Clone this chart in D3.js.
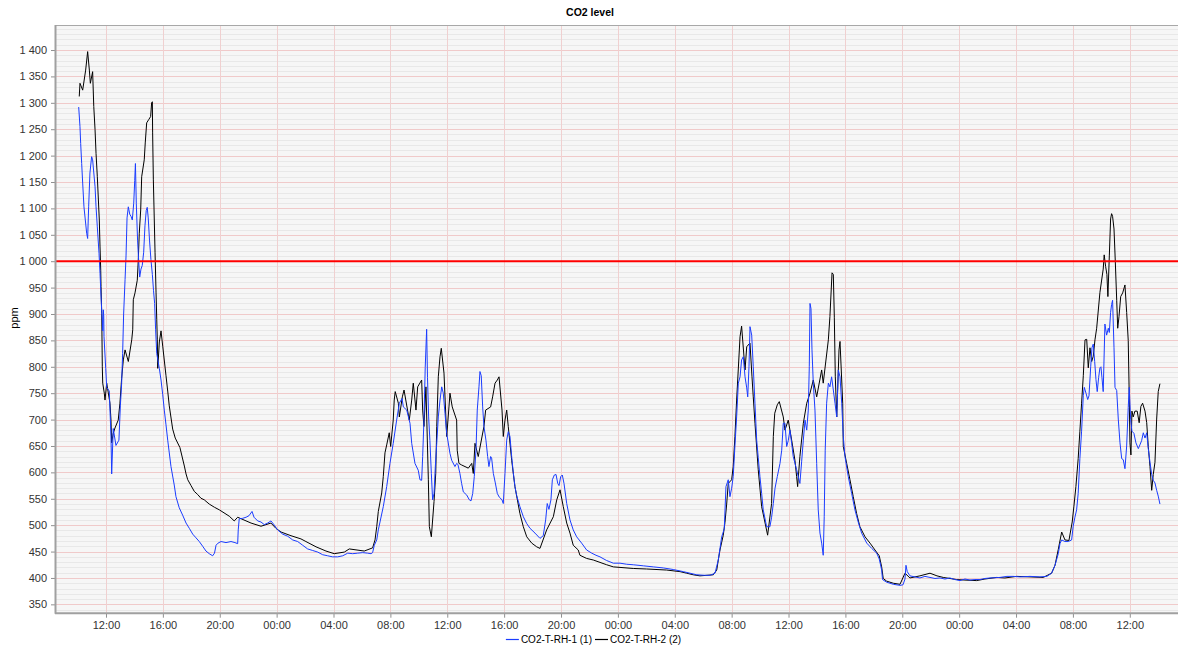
<!DOCTYPE html>
<html>
<head>
<meta charset="utf-8">
<script src="https://cdn.jsdelivr.net/npm/d3@7/dist/d3.min.js"></script>
<style>
  html, body { margin: 0; padding: 0; background: #ffffff; }
  svg { display: block; }
  text { font-family: "Liberation Sans", Arial, sans-serif; }
</style>
</head>
<body>
<svg id="chart" width="1178" height="646"></svg>
<script>
// ---------------- DATA ----------------
// times: hours since midnight of the first day
const chartTitle = "CO2 level";
const yAxisLabel = "ppm";
const seriesNames = ["CO2-T-RH-1 (1)", "CO2-T-RH-2 (2)"];
const yTickValues = [350,400,450,500,550,600,650,700,750,800,850,900,950,1000,1050,1100,1150,1200,1250,1300,1350,1400];
const limitValue = 1000;

const s1Times = [10.08,10.17,10.22,10.29,10.36,10.45,10.64,10.71,10.78,10.87,10.99,11.06,11.23,11.30,11.39,11.51,11.58,11.70,11.74,11.77,11.81,11.84,11.86,11.98,12.05,12.23,12.35,12.40,12.51,12.70,12.91,13.01,13.10,13.17,13.24,13.34,13.41,13.48,13.57,13.67,13.76,13.85,13.95,14.02,14.07,14.13,14.22,14.30,14.37,14.46,14.55,14.65,14.74,14.83,14.90,14.97,15.06,15.16,15.26,15.34,15.42,15.49,15.57,15.75,15.87,15.99,16.10,16.22,16.34,16.57,16.80,16.92,17.15,17.39,17.63,17.86,18.10,18.33,18.56,18.80,19.03,19.26,19.50,19.63,19.74,19.88,20.09,20.44,20.79,21.07,21.26,21.30,21.37,21.61,21.85,22.06,22.27,22.41,22.67,22.90,23.13,23.37,23.60,23.84,24.07,24.43,24.78,25.13,25.48,25.83,26.18,26.54,26.89,27.24,27.59,27.94,28.29,28.65,29.00,29.35,29.70,30.05,30.40,30.64,30.75,30.87,31.04,31.15,31.50,31.74,31.97,32.20,32.44,32.63,32.82,32.91,33.15,33.38,33.50,33.73,33.96,34.08,34.20,34.27,34.36,34.45,34.55,34.61,34.69,34.78,34.88,34.97,35.07,35.16,35.26,35.37,35.49,35.61,35.72,35.84,35.96,36.19,36.31,36.54,36.66,36.75,36.89,37.01,37.13,37.37,37.55,37.67,37.79,37.90,38.02,38.11,38.23,38.30,38.39,38.49,38.58,38.72,38.84,38.93,39.05,39.12,39.24,39.38,39.52,39.66,39.85,39.94,40.06,40.18,40.29,40.41,40.53,40.64,40.76,40.88,41.11,41.35,41.59,41.82,42.17,42.52,42.75,42.92,43.03,43.15,43.29,43.39,43.53,43.65,43.77,43.86,43.98,44.09,44.21,44.40,44.63,44.86,45.10,45.45,45.80,46.16,46.46,46.74,47.21,47.68,48.15,48.62,49.08,49.79,50.49,51.19,51.89,52.60,53.07,53.54,54.12,54.48,54.83,55.06,55.30,55.48,55.60,55.76,55.88,56.00,56.11,56.23,56.35,56.47,56.59,56.70,56.82,56.94,57.06,57.13,57.22,57.29,57.41,57.52,57.64,57.76,57.87,57.99,58.11,58.22,58.46,58.69,58.81,58.93,59.05,59.21,59.40,59.52,59.63,59.75,59.87,59.98,60.10,60.22,60.33,60.57,60.80,60.92,61.04,61.16,61.28,61.39,61.46,61.51,61.58,61.65,61.74,61.86,61.98,62.09,62.21,62.33,62.44,62.51,62.58,62.68,62.80,62.91,63.03,63.15,63.27,63.39,63.50,63.62,63.74,63.85,63.97,64.20,64.44,64.67,64.90,65.14,65.50,65.85,66.20,66.38,66.55,66.61,66.90,67.37,67.84,68.05,68.19,68.26,68.35,68.54,68.89,69.24,69.59,69.95,70.30,70.65,71.00,71.35,71.70,72.06,72.41,72.76,73.11,73.46,73.81,74.17,74.87,75.36,75.80,76.28,76.98,77.68,78.17,78.50,78.74,78.97,79.09,79.21,79.44,79.67,79.91,80.02,80.14,80.26,80.37,80.49,80.61,80.73,80.80,80.92,81.04,81.13,81.25,81.34,81.43,81.53,81.62,81.71,81.81,81.90,81.97,82.04,82.13,82.25,82.37,82.49,82.56,82.65,82.72,82.79,82.89,82.96,83.08,83.19,83.31,83.43,83.54,83.66,83.78,83.89,83.96,84.06,84.15,84.29,84.43,84.60,84.71,84.83,84.95,85.07,85.19,85.30,85.42,85.54,85.65,85.77,85.89,86.00,86.12];
const s1Values = [1292,1255,1223,1185,1148,1103,1053,1043,1103,1167,1198,1192,1141,1103,1065,1015,977,904,889,868,908,896,857,797,761,754,669,597,683,651,661,726,768,825,900,965,1010,1082,1103,1089,1085,1078,1110,1153,1185,1110,1040,1000,970,985,992,1017,1067,1096,1102,1082,1040,1003,975,945,920,870,825,797,775,747,718,690,661,611,576,554,533,519,504,494,483,476,469,460,451,446,442,447,462,466,469,467,469,467,465,491,512,513,515,518,526,515,508,506,501,504,508,500,491,483,479,472,469,462,455,452,449,444,442,440,440,442,447,446,447,448,447,446,448,462,472,491,535,573,617,655,699,731,740,724,718,693,655,617,604,586,585,630,699,799,871,780,705,660,598,548,560,611,655,705,737,762,750,712,674,636,623,611,617,615,598,579,563,557,548,546,560,592,642,718,762,791,783,724,687,661,630,611,630,627,598,580,560,553,548,541,598,661,677,668,630,600,573,556,535,516,503,494,485,475,480,510,541,530,548,586,595,596,579,575,592,595,579,541,510,491,478,466,453,447,443,440,433,428,428,426,425,423,421,419,416,412,409,406,405,405,409,434,478,493,573,586,554,570,592,650,705,769,781,813,819,781,760,743,800,876,860,800,730,661,628,592,560,529,497,497,515,541,570,592,617,642,693,693,649,660,680,655,630,605,579,620,661,699,680,718,800,920,910,832,769,718,617,529,485,466,443,516,642,731,769,762,781,756,731,705,794,781,731,668,630,592,560,529,506,485,466,456,447,436,415,397,392,388,386,387,398,424,412,404,402,400,403,401,399,400,398,400,397,395,398,396,397,397,399,400,401,403,403,402,403,402,403,409,424,446,465,472,469,469,472,498,515,529,560,626,678,746,761,750,738,745,800,836,843,810,776,753,780,798,800,780,753,881,860,873,865,903,918,926,836,761,755,701,656,626,624,607,650,723,761,700,678,674,656,645,652,660,675,665,675,645,619,596,585,580,566,555,540];

const s2Times = [10.12,10.17,10.36,10.57,10.71,10.83,10.90,11.06,11.14,11.23,11.30,11.39,11.53,11.58,11.63,11.65,11.70,11.74,11.77,11.88,11.93,12.05,12.28,12.35,12.40,12.51,12.63,12.86,12.98,13.10,13.22,13.34,13.57,13.81,13.88,13.92,14.04,14.20,14.27,14.34,14.44,14.51,14.69,14.76,14.86,15.00,15.14,15.21,15.26,15.28,15.33,15.45,15.52,15.57,15.61,15.64,15.75,15.87,15.99,16.22,16.34,16.45,16.69,16.87,17.20,17.51,17.63,17.75,17.98,18.21,18.45,18.68,18.91,19.26,19.62,19.97,20.67,21.02,21.26,22.20,22.90,23.60,23.95,24.31,25.01,25.71,26.06,26.77,27.47,28.05,28.76,29.11,30.16,30.75,30.92,31.04,31.15,31.39,31.50,31.62,31.74,31.92,32.02,32.20,32.27,32.34,32.56,32.63,32.84,32.96,33.33,33.50,33.61,33.80,33.92,34.20,34.27,34.36,34.50,34.67,34.74,34.88,35.07,35.19,35.26,35.37,35.49,35.58,35.77,35.96,36.12,36.19,36.35,36.66,36.70,36.82,37.01,37.48,37.72,37.83,37.95,38.18,38.58,38.70,39.05,39.19,39.36,39.52,39.64,39.85,39.94,40.06,40.18,40.29,40.53,40.76,41.11,41.35,41.59,41.94,42.29,42.52,42.99,43.46,43.70,43.93,44.16,44.40,44.63,44.86,45.21,45.33,45.80,46.27,47.21,47.68,49.08,50.02,51.43,52.37,52.84,53.30,53.77,54.71,54.95,55.06,55.18,55.41,55.53,55.65,55.76,56.00,56.11,56.23,56.35,56.59,56.70,56.94,57.06,57.29,57.43,57.52,57.64,57.87,58.11,58.53,58.81,58.93,59.03,59.21,59.35,59.63,59.75,59.98,60.22,60.45,60.57,60.64,60.80,61.04,61.28,61.51,61.74,61.98,62.33,62.44,62.80,62.91,63.06,63.15,63.22,63.29,63.39,63.55,63.62,63.81,63.85,64.09,64.32,64.55,64.79,65.02,65.38,65.73,66.08,66.38,66.55,66.66,66.90,67.37,67.84,68.19,68.54,69.24,69.95,70.44,70.88,71.35,71.82,72.41,73.23,73.81,74.64,75.22,76.04,76.98,77.91,78.50,78.74,78.97,79.21,79.44,79.72,79.95,80.07,80.21,80.37,80.49,80.61,80.73,80.85,80.97,81.08,81.20,81.32,81.43,81.55,81.67,81.90,82.13,82.20,82.30,82.39,82.46,82.56,82.65,82.72,82.79,82.89,82.98,83.08,83.15,83.24,83.36,83.50,83.66,83.78,83.89,83.96,84.01,84.08,84.15,84.24,84.36,84.52,84.66,84.78,84.90,85.07,85.19,85.30,85.42,85.54,85.65,85.77,85.89,86.00,86.12];
const s2Values = [1312,1337,1324,1362,1397,1362,1337,1359,1293,1249,1204,1160,1078,1027,983,952,901,800,769,750,737,769,731,699,656,674,684,699,731,778,813,832,810,851,870,927,940,964,1002,1053,1097,1160,1192,1224,1262,1268,1274,1300,1302,1243,1154,1016,940,889,851,797,847,868,839,783,754,726,682,665,647,612,597,586,575,564,558,551,548,540,534,529,517,508,515,504,498,504,494,487,480,474,469,459,451,446,449,455,451,457,472,497,526,561,592,637,652,675,649,699,737,753,731,705,743,756,699,737,769,718,762,775,718,687,762,586,497,478,545,598,687,781,819,835,788,668,724,750,724,699,642,617,614,608,617,598,655,630,687,718,724,743,769,775,781,718,668,699,718,687,623,573,522,497,478,466,459,456,491,516,548,567,535,504,485,462,453,443,437,434,425,421,418,417,415,412,409,406,404,406,415,434,453,481,505,540,579,586,611,668,737,857,877,794,838,845,781,743,693,605,535,481,541,668,712,728,734,705,680,699,661,623,592,573,630,693,731,750,775,743,794,769,851,895,978,975,894,781,705,832,848,731,649,617,586,554,522,497,478,466,453,442,421,399,394,390,388,409,400,404,409,404,401,399,397,396,395,398,401,400,403,402,401,409,424,454,487,472,471,506,536,573,626,678,731,783,851,852,798,836,810,820,851,873,941,985,1012,990,975,933,1010,1080,1090,1085,1061,1000,926,873,895,933,940,955,903,850,746,656,633,716,705,716,716,694,725,731,716,694,649,611,566,596,619,701,753,768];

// ---------------- LAYOUT ----------------
const W = 1178, H = 646;
const plot = { left: 56, top: 25, right: 1178, bottom: 612.7 };
const baseDate = new Date(2020, 0, 6, 0, 0, 0);
const toDate = h => new Date(baseDate.getTime() + h * 3600 * 1000);
const xDomain = [toDate(8.484), toDate(87.39)];
const yDomain = [334.2, 1447.4];

const x = d3.scaleTime().domain(xDomain).range([plot.left, plot.right]);
const y = d3.scaleLinear().domain(yDomain).range([plot.bottom, plot.top]);

const svg = d3.select("#chart");
const fmtY = d3.formatLocale({ decimal: ".", thousands: "\u00a0", grouping: [3], currency: ["", ""] }).format(",d");
const fmtX = d3.timeFormat("%H:%M");

// clip
svg.append("defs").append("clipPath").attr("id", "clip")
  .append("rect").attr("x", plot.left).attr("y", plot.top)
  .attr("width", plot.right - plot.left).attr("height", plot.bottom - plot.top);

// background
svg.append("rect").attr("x", plot.left).attr("y", plot.top)
  .attr("width", plot.right - plot.left).attr("height", plot.bottom - plot.top)
  .attr("fill", "#f6f6f6");

const grid = svg.append("g").attr("clip-path", "url(#clip)");
// minor horizontal
const minor = d3.range(340, 1450, 10).filter(v => v % 50 !== 0);
grid.selectAll("line.minor").data(minor).join("line")
  .attr("x1", plot.left).attr("x2", plot.right)
  .attr("y1", d => Math.round(y(d)) + 0.5).attr("y2", d => Math.round(y(d)) + 0.5)
  .attr("stroke", "#e8e8e8").attr("stroke-width", 1);
// major horizontal
grid.selectAll("line.hmaj").data(yTickValues).join("line")
  .attr("x1", plot.left).attr("x2", plot.right)
  .attr("y1", d => Math.round(y(d)) + 0.5).attr("y2", d => Math.round(y(d)) + 0.5)
  .attr("stroke", "#f0caca").attr("stroke-width", 1);
// vertical
const xTicks = x.ticks(d3.timeHour.every(4));
grid.selectAll("line.vmaj").data(xTicks).join("line")
  .attr("y1", plot.top).attr("y2", plot.bottom)
  .attr("x1", d => Math.round(x(d)) + 0.5).attr("x2", d => Math.round(x(d)) + 0.5)
  .attr("stroke", "#f0d0d0").attr("stroke-width", 1);

// series
const lineGen = d3.line().x(d => x(d.t)).y(d => y(d.v));
const s1 = s1Times.map((t, i) => ({ t: toDate(t), v: s1Values[i] }));
const s2 = s2Times.map((t, i) => ({ t: toDate(t), v: s2Values[i] }));
const dataG = svg.append("g").attr("clip-path", "url(#clip)");
dataG.append("path").datum(s2).attr("d", lineGen)
  .attr("fill", "none").attr("stroke", "#000000").attr("stroke-width", 1);
dataG.append("path").datum(s1).attr("d", lineGen)
  .attr("fill", "none").attr("stroke", "#1a3cff").attr("stroke-width", 1);

// limit marker
svg.append("line")
  .attr("x1", plot.left).attr("x2", plot.right)
  .attr("y1", y(limitValue)).attr("y2", y(limitValue))
  .attr("stroke", "#ff0000").attr("stroke-width", 2);

// borders
svg.append("line").attr("x1", plot.left).attr("x2", plot.right)
  .attr("y1", plot.top + 0.5).attr("y2", plot.top + 0.5)
  .attr("stroke", "#a8a8a8").attr("stroke-width", 1);

// Y axis
const yAxis = d3.axisLeft(y).tickValues(yTickValues).tickFormat(fmtY).tickSize(4).tickPadding(4);
const gy = svg.append("g").attr("transform", `translate(${plot.left - 1},0)`).call(yAxis);
gy.select(".domain").remove();
gy.selectAll(".tick line").attr("stroke", "#909090");
gy.selectAll(".tick text").attr("font-size", 11).attr("fill", "#333")
  .style("font-family", '"Liberation Sans", Arial, sans-serif');
svg.append("line").attr("x1", plot.left - 0.5).attr("x2", plot.left - 0.5)
  .attr("y1", plot.top).attr("y2", plot.bottom + 1)
  .attr("stroke", "#a0a0a0").attr("stroke-width", 2);

// X axis
const xAxis = d3.axisBottom(x).ticks(d3.timeHour.every(4)).tickFormat(fmtX).tickSize(4).tickPadding(4);
const gx = svg.append("g").attr("transform", `translate(0,${plot.bottom + 1})`).call(xAxis);
gx.select(".domain").remove();
gx.selectAll(".tick line").attr("stroke", "#909090");
gx.selectAll(".tick text").attr("font-size", 11).attr("fill", "#333")
  .style("font-family", '"Liberation Sans", Arial, sans-serif');
svg.append("line").attr("x1", plot.left - 1).attr("x2", plot.right)
  .attr("y1", plot.bottom + 0.5).attr("y2", plot.bottom + 0.5)
  .attr("stroke", "#a0a0a0").attr("stroke-width", 2);

// title
svg.append("text").attr("x", 590).attr("y", 16).attr("text-anchor", "middle")
  .attr("font-size", 10.5).attr("font-weight", "bold").attr("fill", "#000").text(chartTitle);

// y label
svg.append("text").attr("transform", "translate(18,318) rotate(-90)")
  .attr("text-anchor", "middle").attr("font-size", 11).attr("fill", "#000").text(yAxisLabel);

// legend
const legendColors = ["#1a3cff", "#000000"];
const lg = svg.append("g");
const items = [];
seriesNames.forEach((name, i) => {
  const g = lg.append("g");
  g.append("line").attr("x1", 0).attr("x2", 13).attr("y1", 0.5).attr("y2", 0.5)
    .attr("stroke", legendColors[i]).attr("stroke-width", 1.2);
  const t = g.append("text").attr("x", 15).attr("y", 3.5).attr("font-size", 10).attr("fill", "#000").text(name);
  const w = 15 + t.node().getComputedTextLength();
  items.push({ g, w });
});
const gap = 3;
const total = items.reduce((a, b) => a + b.w, 0) + gap * (items.length - 1);
let cx = 593.5 - total / 2;
items.forEach(it => { it.g.attr("transform", `translate(${cx},639)`); cx += it.w + gap; });
</script>
</body>
</html>
